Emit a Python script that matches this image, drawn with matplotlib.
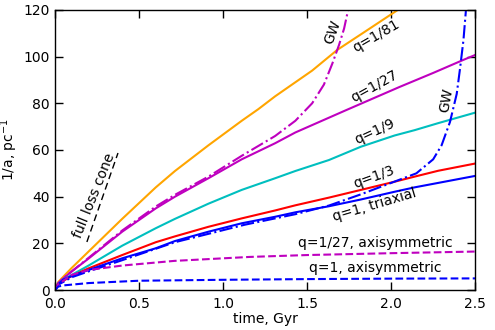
import matplotlib
matplotlib.use("Agg")
import matplotlib.pyplot as plt

# ---- data ----
t_q81 = [0, 0.02, 0.06, 0.1, 0.2, 0.4, 0.6, 0.714, 0.913, 1.111, 1.21, 1.31, 1.53, 1.68, 1.83, 2.04, 2.1]
y_q81 = [0, 3.5, 6.5, 9.5, 16.5, 30.5, 44, 51, 62, 72.5, 77.5, 83, 94, 102.9, 110, 120, 123]

t_q27 = [0, 0.02, 0.05, 0.1, 0.2, 0.4, 0.6, 0.714, 0.913, 1.111, 1.31, 1.43, 1.73, 2.05, 2.25, 2.43, 2.5]
y_q27 = [0, 3, 5, 8, 13.5, 25, 35, 40, 47.9, 56, 62.9, 67.5, 77, 87, 93, 98.6, 100.7]

t_q27_gw = [0, 0.02, 0.05, 0.1, 0.2, 0.4, 0.6, 0.714, 0.913, 1.111, 1.31, 1.43, 1.53, 1.6, 1.65, 1.69, 1.72, 1.75]
y_q27_gw = [0, 3, 5, 8, 13.8, 25.5, 35.8, 40.8, 48.6, 57.5, 66, 72.5, 80, 88, 97, 105, 112, 122]

t_q9 = [0, 0.02, 0.05, 0.1, 0.2, 0.4, 0.6, 0.714, 0.913, 1.111, 1.31, 1.43, 1.63, 1.82, 2.02, 2.14, 2.28, 2.5]
y_q9 = [0, 2.5, 4.5, 6.5, 10.5, 19, 26.5, 30.5, 37, 42.9, 47.9, 51, 55.7, 61.4, 66.2, 68.5, 71.5, 76]

t_q3 = [0, 0.02, 0.05, 0.1, 0.2, 0.4, 0.6, 0.714, 0.913, 1.111, 1.31, 1.43, 1.63, 1.82, 2.02, 2.14, 2.28, 2.5]
y_q3 = [0, 2.5, 4, 6, 9.3, 15, 20.5, 23, 27.1, 30.7, 34.1, 36.3, 39.6, 42.9, 46.4, 48.6, 51.1, 54.2]

t_q1 = [0, 0.02, 0.05, 0.1, 0.2, 0.4, 0.6, 0.714, 0.913, 1.111, 1.31, 1.43, 1.63, 1.82, 2.02, 2.14, 2.28, 2.5]
y_q1 = [0, 2.5, 4.5, 6, 8.6, 13.6, 17.9, 21, 25, 28.6, 31.4, 33.3, 35.9, 38.8, 42.1, 44, 45.9, 48.9]

t_q1_gw = [0, 0.02, 0.05, 0.1, 0.2, 0.4, 0.714, 1.13, 1.43, 1.63, 1.82, 2.04, 2.15, 2.25, 2.3, 2.35, 2.39, 2.41, 2.43, 2.445, 2.45]
y_q1_gw = [0, 2.3, 3.5, 5.5, 8, 12.8, 20.5, 28, 32.5, 36.2, 41, 47, 50, 56, 62, 72, 84, 95, 107, 120, 126]

t_q27_axi = [0, 0.02, 0.05, 0.1, 0.2, 0.4, 0.71, 1.16, 1.5, 2.0, 2.5]
y_q27_axi = [0, 2.5, 4, 6.5, 8.6, 10.5, 12.5, 14.2, 15, 15.8, 16.5]

t_q1_axi = [0, 0.02, 0.05, 0.2, 0.5, 1.0, 1.5, 2.0, 2.5]
y_q1_axi = [0, 1.5, 2, 3, 4, 4.4, 4.7, 4.9, 5.0]

loss_cone_t = [0.19, 0.375]
loss_cone_y = [20.6, 58.7]

x_ticks = [0.0, 0.5, 1.0, 1.5, 2.0, 2.5]
x_tick_labels = ["0.0", "0.5", "1.0", "1.5", "2.0", "2.5"]
y_ticks = [0, 20, 40, 60, 80, 100, 120]
y_tick_labels = ["0", "20", "40", "60", "80", "100", "120"]

# ---- figure ----
plt.rcParams['font.family'] = ['DejaVu Sans']
fig = plt.figure(figsize=(4.95, 3.3), dpi=100)
ax = fig.add_axes([0.111, 0.121, 0.849, 0.849])

lw = 1.5
ax.plot(t_q81, y_q81, color='orange', lw=lw)
ax.plot(t_q27_gw, y_q27_gw, color='m', lw=lw, ls='-.')
ax.plot(t_q27, y_q27, color='m', lw=lw)
ax.plot(t_q9, y_q9, color='c', lw=lw)
ax.plot(t_q3, y_q3, color='r', lw=lw)
ax.plot(t_q1_gw, y_q1_gw, color='b', lw=lw, ls='-.')
ax.plot(t_q1, y_q1, color='b', lw=lw)
ax.plot(t_q27_axi, y_q27_axi, color='m', lw=lw, ls='--')
ax.plot(t_q1_axi, y_q1_axi, color='b', lw=lw, ls='--')
ax.plot(loss_cone_t, loss_cone_y, color='k', lw=1, ls=(0, (5, 3)))

ax.set_xlim(0, 2.5)
ax.set_ylim(0, 120)
ax.set_xticks(x_ticks)
ax.set_xticklabels(x_tick_labels)
ax.set_yticks(y_ticks)
ax.set_yticklabels(y_tick_labels)
ax.tick_params(direction='in', top=True, right=True, length=6, width=1, labelsize=10)
ax.tick_params(axis='x', pad=5)
ax.tick_params(axis='y', pad=4)
for s in ax.spines.values():
    s.set_linewidth(1)

ax.set_xlabel("time, Gyr", fontsize=10, labelpad=1)
ax.set_ylabel("1/a, pc$^{-1}$", fontsize=10, labelpad=2)

fs = 10
ax.text(1.91, 108.9, "q=1/81", rotation=30, ha='center', va='center', fontsize=fs)
ax.text(1.65, 110.5, "GW", rotation=70, ha='center', va='center', fontsize=fs)
ax.text(1.9, 87.4, "q=1/27", rotation=29, ha='center', va='center', fontsize=fs)
ax.text(1.905, 67.7, "q=1/9", rotation=25, ha='center', va='center', fontsize=fs)
ax.text(1.9, 48.4, "q=1/3", rotation=20, ha='center', va='center', fontsize=fs)
ax.text(1.9, 36.4, "q=1, triaxial", rotation=16.5, ha='center', va='center', fontsize=fs)
ax.text(2.33, 81.4, "GW", rotation=80, ha='center', va='center', fontsize=fs)
ax.text(1.905, 20.1, "q=1/27, axisymmetric", ha='center', va='center', fontsize=fs)
ax.text(1.905, 9.4, "q=1, axisymmetric", ha='center', va='center', fontsize=fs)
ax.text(0.232, 40.5, "full loss cone", rotation=68, ha='center', va='center', fontsize=fs)

fig.savefig("out.png", dpi=100)
